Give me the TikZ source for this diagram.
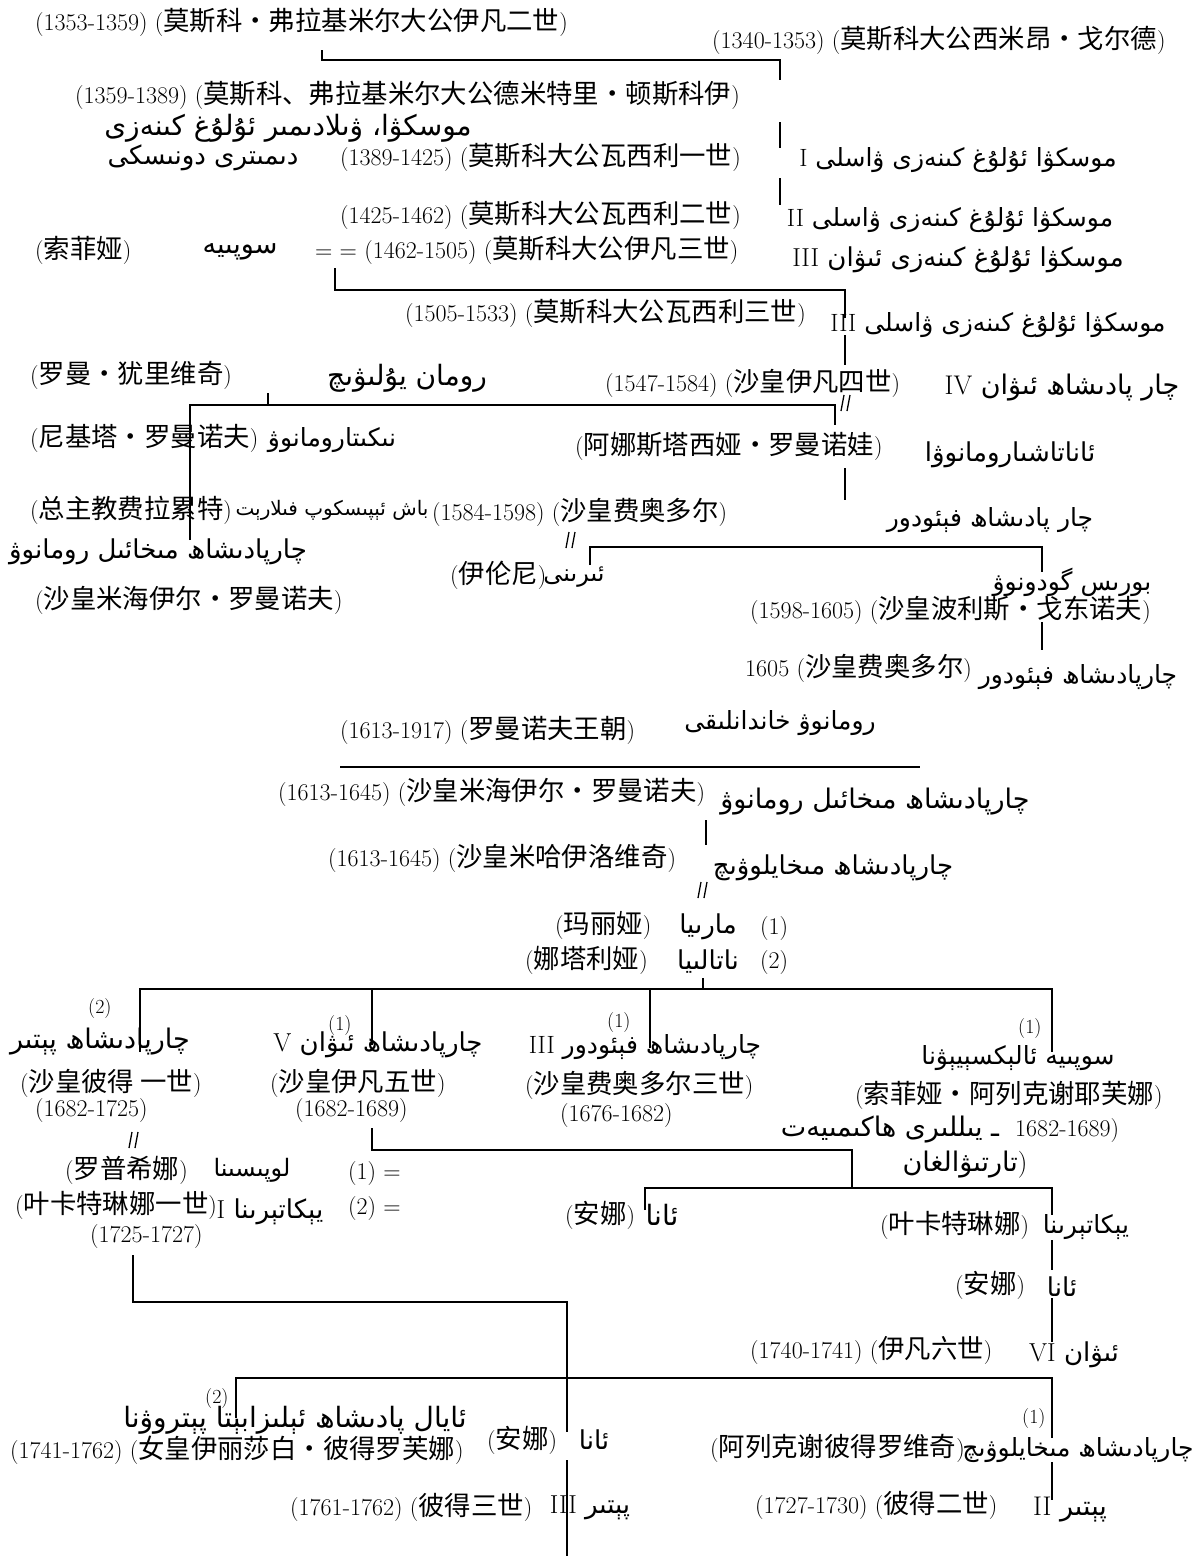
\documentclass[tikz,border=0pt]{standalone}
\usepackage{fontspec}
\newfontfamily\zhfont[Scale=1.1]{Noto Sans CJK SC}
\newfontfamily\ugfont[Script=Arabic]{DejaVu Sans}
\TeXXeTstate=1
\newcommand\zh[1]{{\zhfont #1}}
\newcommand\rnum[1]{{\rmfamily\beginL #1\endL}}
\newcommand\ugtext[1]{{\ugfont\beginR #1\endR}}

\begin{document}
\begin{tikzpicture}[x=1pt,y=1pt,yscale=-1,xscale=1,
  txt/.style={anchor=west,inner sep=0pt,font=\fontsize{24}{26}\selectfont},
  ug/.style={inner sep=0pt,font=\fontsize{#1}{#1}\selectfont},
  ug/.default=26,
  small/.style={anchor=west,inner sep=0pt,font=\fontsize{20}{22}\selectfont},
  link/.style={line width=1.7pt},
  wed/.pic={\draw[line width=1.3pt] (-4,-8) -- (-1,8) (2,-8) -- (5,8);}
]
\useasboundingbox (0,0) rectangle (1198,1556);

%%% grand princes of Moscow
% Text Node
\node (ivanii) at (35,22) [txt] {(1353-1359) (\zh{莫斯科・弗拉基米尔大公伊凡二世})};
% Text Node
\node (simeon) at (712,40) [txt] {(1340-1353) (\zh{莫斯科大公西米昂・戈尔德})};
% Text Node
\node (dmitri) at (75,95) [txt] {(1359-1389) (\zh{莫斯科、弗拉基米尔大公德米特里・顿斯科伊})};
% Text Node
\node (dmitriug) at (288,128) [ug=28] {\ugtext{موسكۋا، ۋىلادىمىر ئۇلۇغ كىنەزى}};
% Text Node
\node (dmitriugb) at (203,158) [ug] {\ugtext{دىمىترى دونىسكى}};
% Text Node
\node (vasi) at (340,157) [txt] {(1389-1425) (\zh{莫斯科大公瓦西利一世})};
% Text Node
\node (vasiug) at (958,160) [ug=25] {\ugtext{موسكۋا ئۇلۇغ كىنەزى ۋاسلى \rnum{I}}};
% Text Node
\node (vasii) at (340,215) [txt] {(1425-1462) (\zh{莫斯科大公瓦西利二世})};
% Text Node
\node (vasiiug) at (950,220) [ug=25] {\ugtext{موسكۋا ئۇلۇغ كىنەزى ۋاسلى \rnum{II}}};
% Text Node
\node (sofia) at (35,250) [txt] {(\zh{索菲娅})};
% Text Node
\node (sofiaug) at (240,252) [ug=27] {\ugtext{سوپىيە}};
% Text Node
\node (ivaniii) at (315,250) [txt] {= = (1462-1505) (\zh{莫斯科大公伊凡三世})};
% Text Node
\node (ivaniiiug) at (958,260) [ug] {\ugtext{موسكۋا ئۇلۇغ كىنەزى ئىۋان \rnum{III}}};
% Text Node
\node (vasiii) at (405,313) [txt] {(1505-1533) (\zh{莫斯科大公瓦西利三世})};
% Text Node
\node (vasiiiug) at (998,325) [ug=25] {\ugtext{موسكۋا ئۇلۇغ كىنەزى ۋاسلى \rnum{III}}};

%%% Ivan IV and the Romanovs
% Text Node
\node (roman) at (30,375) [txt] {(\zh{罗曼・犹里维奇})};
% Text Node
\node (romanug) at (407,378) [ug=28] {\ugtext{رومان يۇلىۋىچ}};
% Text Node
\node (ivaniv) at (605,383) [txt] {(1547-1584) (\zh{沙皇伊凡四世})};
% Text Node
\node (ivanivug) at (1062,388) [ug=27] {\ugtext{چار پادىشاھ ئىۋان \rnum{IV}}};
% Text Node
\node (nikita) at (30,438) [txt] {(\zh{尼基塔・罗曼诺夫})};
% Text Node
\node (nikitaug) at (332,440) [ug=25] {\ugtext{نىكىتارومانوۋ}};
% Text Node
\node (anast) at (575,446) [txt] {(\zh{阿娜斯塔西娅・罗曼诺娃})};
% Text Node
\node (anastug) at (1010,455) [ug] {\ugtext{ئاناتاشىارومانوۋا}};
% Text Node
\node (filaret) at (30,510) [txt] {(\zh{总主教费拉累特})};
% Text Node
\node (filaretug) at (332,510) [ug=20] {\ugtext{باش ئېپىسكوپ فىلارېت}};
% Text Node
\node (fyodor) at (432,512) [txt] {(1584-1598) (\zh{沙皇费奥多尔})};
% Text Node
\node (fyodorug) at (990,520) [ug=25] {\ugtext{چار پادىشاھ فېئودور}};
% Text Node
\node (mikhug) at (158,552) [ug] {\ugtext{چارپادىشاھ مىخائىل رومانوۋ}};
% Text Node
\node (mikh) at (35,600) [txt] {(\zh{沙皇米海伊尔・罗曼诺夫})};
% Text Node
\node (irina) at (450,575) [txt] {(\zh{伊伦尼})};
% Text Node
\node (irinaug) at (574,577) [ug=24] {\ugtext{ئىرىنى}};
% Text Node
\node (borisug) at (1072,582) [ug=25] {\ugtext{بورىس گودونوۋ}};
% Text Node
\node (boris) at (750,610) [txt] {(1598-1605) (\zh{沙皇波利斯・戈东诺夫})};
% Text Node
\node (fyodorii) at (745,668) [txt] {1605 (\zh{沙皇费奥多尔})};
% Text Node
\node (fyodoriiug) at (1078,677) [ug=25] {\ugtext{چارپادىشاھ فېئودور}};

%%% Romanov dynasty
% Text Node
\node (dyn) at (340,730) [txt] {(1613-1917) (\zh{罗曼诺夫王朝})};
% Text Node
\node (dynug) at (780,723) [ug=25] {\ugtext{رومانوۋ خاندانلىقى}};
% Text Node
\node (mikhr) at (278,792) [txt] {(1613-1645) (\zh{沙皇米海伊尔・罗曼诺夫})};
% Text Node
\node (mikhrug) at (875,802) [ug=27] {\ugtext{چارپادىشاھ مىخائىل رومانوۋ}};
% Text Node
\node (alexei) at (328,858) [txt] {(1613-1645) (\zh{沙皇米哈伊洛维奇})};
% Text Node
\node (alexeiug) at (833,868) [ug] {\ugtext{چارپادىشاھ مىخايلوۋىچ}};
% Text Node
\node (maria) at (555,925) [txt] {(\zh{玛丽娅})};
% Text Node
\node (mariaug) at (708,927) [ug] {\ugtext{مارىيا}};
% Text Node
\node (mariano) at (760,928) [txt] {(1)};
% Text Node
\node (natalia) at (525,960) [txt] {(\zh{娜塔利娅})};
% Text Node
\node (nataliaug) at (708,962) [ug] {\ugtext{ناتالىيا}};
% Text Node
\node (natno) at (760,962) [txt] {(2)};

%%% children of Alexei
% Text Node
\node (peterno) at (88,1008) [small] {(2)};
% Text Node
\node (peterug) at (100,1042) [ug=27] {\ugtext{چارپادىشاھ پېتىر}};
% Text Node
\node (peter) at (20,1083) [txt] {(\zh{沙皇彼得 一世})};
% Text Node
\node (peterd) at (35,1110) [txt] {(1682-1725)};
% Text Node
\node (ivanvno) at (328,1025) [small] {(1)};
% Text Node
\node (ivanvug) at (378,1045) [ug] {\ugtext{چارپادىشاھ ئىۋان \rnum{V}}};
% Text Node
\node (ivanv) at (270,1083) [txt] {(\zh{沙皇伊凡五世})};
% Text Node
\node (ivanvd) at (295,1110) [txt] {(1682-1689)};
% Text Node
\node (fyoiiino) at (607,1022) [small] {(1)};
% Text Node
\node (fyoiiiug) at (645,1047) [ug=25] {\ugtext{چارپادىشاھ فېئودور \rnum{III}}};
% Text Node
\node (fyoiii) at (525,1085) [txt] {(\zh{沙皇费奥多尔三世})};
% Text Node
\node (fyoiiid) at (560,1115) [txt] {(1676-1682)};
% Text Node
\node (sofyano) at (1018,1028) [small] {(1)};
% Text Node
\node (sofyaug) at (1018,1058) [ug=25] {\ugtext{سوپىيە ئالېكسېيېۋنا}};
% Text Node
\node (sofya) at (855,1095) [txt] {(\zh{索菲娅・阿列克谢耶芙娜})};
% Text Node
\node (sofyad) at (1015,1130) [txt] {1682-1689)};
% Text Node
\node (sofyaugb) at (890,1130) [ug=27] {\ugtext{ـ يىللىرى ھاكىمىيەت}};
% Text Node
\node (sofyaugc) at (965,1165) [ug=27] {\ugtext{تارتىۋالغان})};

%%% wives of Peter I, daughters of Ivan V
% Text Node
\node (lopukh) at (65,1170) [txt] {(\zh{罗普希娜})};
% Text Node
\node (lopukhug) at (252,1170) [ug=24] {\ugtext{لوپىسىنا}};
% Text Node
\node (wifei) at (348,1173) [txt] {(1) =};
% Text Node
\node (cath) at (15,1205) [txt] {(\zh{叶卡特琳娜一世})};
% Text Node
\node (cathug) at (270,1212) [ug] {\ugtext{يېكاتېرىنا \rnum{I}}};
% Text Node
\node (wifeii) at (348,1208) [txt] {(2) =};
% Text Node
\node (cathd) at (90,1236) [txt] {(1725-1727)};
% Text Node
\node (anna) at (565,1215) [txt] {(\zh{安娜})};
% Text Node
\node (annaug) at (662,1215) [ug=28] {\ugtext{ئانا}};
% Text Node
\node (ekat) at (880,1225) [txt] {(\zh{叶卡特琳娜})};
% Text Node
\node (ekatug) at (1086,1227) [ug=25] {\ugtext{يېكاتېرىنا}};
% Text Node
\node (annab) at (955,1285) [txt] {(\zh{安娜})};
% Text Node
\node (annabug) at (1062,1287) [ug] {\ugtext{ئانا}};
% Text Node
\node (ivanvi) at (750,1350) [txt] {(1740-1741) (\zh{伊凡六世})};
% Text Node
\node (ivanviug) at (1074,1355) [ug] {\ugtext{ئىۋان \rnum{VI}}};

%%% children of Peter I
% Text Node
\node (elizno) at (205,1398) [small] {(2)};
% Text Node
\node (elizug) at (295,1420) [ug=28] {\ugtext{ئايال پادىشاھ ئېلىزابېتا پېتروۋنا}};
% Text Node
\node (eliz) at (10,1450) [txt] {(1741-1762) (\zh{女皇伊丽莎白・彼得罗芙娜})};
% Text Node
\node (annac) at (487,1440) [txt] {(\zh{安娜})};
% Text Node
\node (annacug) at (594,1440) [ug] {\ugtext{ئانا}};
% Text Node
\node (peteriii) at (290,1507) [txt] {(1761-1762) (\zh{彼得三世})};
% Text Node
\node (peteriiiug) at (590,1508) [ug] {\ugtext{پېتىر \rnum{III}}};
% Text Node
\node (alexno) at (1022,1418) [small] {(1)};
% Text Node
\node (alex) at (710,1448) [txt] {(\zh{阿列克谢彼得罗维奇})};
% Text Node
\node (alexug) at (1078,1450) [ug=25] {\ugtext{چارپادىشاھ مىخايلوۋىچ}};
% Text Node
\node (peterii) at (755,1505) [txt] {(1727-1730) (\zh{彼得二世})};
% Text Node
\node (peteriiug) at (1070,1510) [ug=27] {\ugtext{پېتىر \rnum{II}}};

%%% bracket corners
\coordinate (c1a) at (322,50);  \coordinate (c1b) at (780,60);  \coordinate (c1c) at (780,80);
\coordinate (c2a) at (780,122); \coordinate (c2b) at (780,148);
\coordinate (c3a) at (780,178); \coordinate (c3b) at (780,205);
\coordinate (c4a) at (335,268); \coordinate (c4b) at (845,290); \coordinate (c4c) at (845,318);
\coordinate (c5a) at (845,335); \coordinate (c5b) at (845,365);
\coordinate (c6a) at (268,393); \coordinate (c6b) at (268,405);
\coordinate (c7a) at (190,540); \coordinate (c7b) at (835,405); \coordinate (c7c) at (835,425);
\coordinate (c8a) at (845,468); \coordinate (c8b) at (845,500);
\coordinate (c9a) at (590,565); \coordinate (c9b) at (1042,547); \coordinate (c9c) at (1042,572);
\coordinate (c10a) at (1042,622); \coordinate (c10b) at (1042,650);
\coordinate (c11a) at (340,767); \coordinate (c11b) at (920,767);
\coordinate (c12a) at (706,820); \coordinate (c12b) at (706,845);
\coordinate (c13a) at (703,978); \coordinate (c13b) at (703,989);
\coordinate (c14a) at (140,1052); \coordinate (c14b) at (1052,989); \coordinate (c14c) at (1052,1052);
\coordinate (c15a) at (372,989); \coordinate (c15b) at (372,1045);
\coordinate (c16a) at (650,989); \coordinate (c16b) at (650,1048);
\coordinate (c17a) at (372,1128); \coordinate (c17b) at (852,1150); \coordinate (c17c) at (852,1188);
\coordinate (c18a) at (645,1210); \coordinate (c18b) at (1052,1188); \coordinate (c18c) at (1052,1215);
\coordinate (c19a) at (1052,1240); \coordinate (c19b) at (1052,1270);
\coordinate (c20a) at (1052,1298); \coordinate (c20b) at (1052,1342);
\coordinate (c21a) at (133,1255); \coordinate (c21b) at (567,1302); \coordinate (c21c) at (567,1432);
\coordinate (c22a) at (567,1460); \coordinate (c22b) at (567,1556);
\coordinate (c23a) at (236,1418); \coordinate (c23b) at (1052,1378); \coordinate (c23c) at (1052,1438);
\coordinate (c24a) at (1052,1462); \coordinate (c24b) at (1052,1500);

%Straight Lines
\draw [link] (c1a) |- (c1b) -- (c1c);
\draw [link] (c2a) -- (c2b);
\draw [link] (c3a) -- (c3b);
\draw [link] (c4a) |- (c4b) -- (c4c);
\draw [link] (c5a) -- (c5b);
\draw [link] (c6a) -- (c6b);
\draw [link] (c7a) |- (c7b) -- (c7c);
\draw [link] (c8a) -- (c8b);
\draw [link] (c9a) |- (c9b) -- (c9c);
\draw [link] (c10a) -- (c10b);
\draw [link] (c11a) -- (c11b);
\draw [link] (c12a) -- (c12b);
\draw [link] (c13a) -- (c13b);
\draw [link] (c14a) |- (c14b) -- (c14c);
\draw [link] (c15a) -- (c15b);
\draw [link] (c16a) -- (c16b);
\draw [link] (c17a) |- (c17b) -- (c17c);
\draw [link] (c18a) |- (c18b) -- (c18c);
\draw [link] (c19a) -- (c19b);
\draw [link] (c20a) -- (c20b);
\draw [link] (c21a) |- (c21b) -- (c21c);
\draw [link] (c22a) -- (c22b);
\draw [link] (c23a) |- (c23b) -- (c23c);
\draw [link] (c24a) -- (c24b);

%Marriage signs
\pic at (845,403) {wed};
\pic at (570,540) {wed};
\pic at (702,890) {wed};
\pic at (133,1140) {wed};

\end{tikzpicture}
\end{document}
